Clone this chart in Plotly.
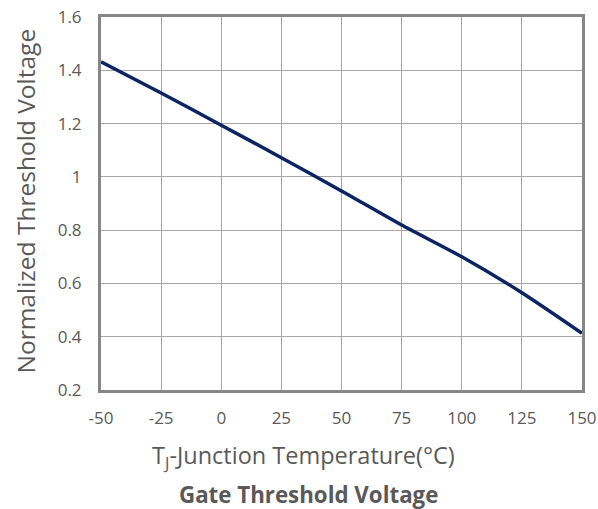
import plotly.graph_objects as go

temps = [-50, -25, 0, 25, 50, 75, 100, 125, 150]
vth = [1.432, 1.315, 1.194, 1.072, 0.947, 0.819, 0.700, 0.565, 0.413]

x_ticks = [-50, -25, 0, 25, 50, 75, 100, 125, 150]
y_ticks = [0.2, 0.4, 0.6, 0.8, 1.0, 1.2, 1.4, 1.6]
y_labels = ["0.2", "0.4", "0.6", "0.8", "1", "1.2", "1.4", "1.6"]

font = "'Open Sans', sans-serif"
txt = "#595959"

fig = go.Figure()
fig.add_trace(go.Scatter(x=temps, y=vth, mode="lines",
                         line=dict(color="#0c2461", width=3.5, shape="spline", smoothing=0.6),
                         showlegend=False, hoverinfo="skip"))

fig.update_layout(
    width=598, height=509,
    margin=dict(l=101, r=16, t=17, b=119),
    paper_bgcolor="white", plot_bgcolor="white",
    font=dict(family=font, color=txt, size=17),
    xaxis=dict(range=[-50, 150], tickvals=x_ticks, ticktext=[str(v) for v in x_ticks],
               showgrid=True, gridcolor="#a6a6a6", gridwidth=1,
               showline=True, linecolor="#868686", linewidth=3, mirror=True,
               ticks="", ticklabelstandoff=11, zeroline=False, automargin=False),
    yaxis=dict(range=[0.2, 1.6], tickvals=y_ticks, ticktext=y_labels,
               showgrid=True, gridcolor="#a6a6a6", gridwidth=1,
               showline=True, linecolor="#868686", linewidth=3, mirror=True,
               ticks="", ticklabelstandoff=13, zeroline=False, automargin=False),
    annotations=[
        dict(text="T<sub>J</sub>-Junction Temperature(°C)", xref="paper", yref="paper",
             x=0.42, y=-0.1796, xanchor="center", yanchor="middle",
             showarrow=False, font=dict(size=23.5, color=txt, family=font)),
        dict(text="Normalized Threshold Voltage", xref="paper", yref="paper",
             x=-0.159, y=0.5067, xanchor="center", yanchor="middle", textangle=-90,
             showarrow=False, font=dict(size=24.5, color=txt, family=font)),
        dict(text="<b>Gate Threshold Voltage</b>", xref="paper", yref="paper",
             x=0.432, y=-0.281, xanchor="center", yanchor="middle",
             showarrow=False, font=dict(size=22.3, color=txt, family=font)),
    ],
)

fig.write_html("out.html", config={"displayModeBar": False},
               post_script="document.body.style.margin='0';")
